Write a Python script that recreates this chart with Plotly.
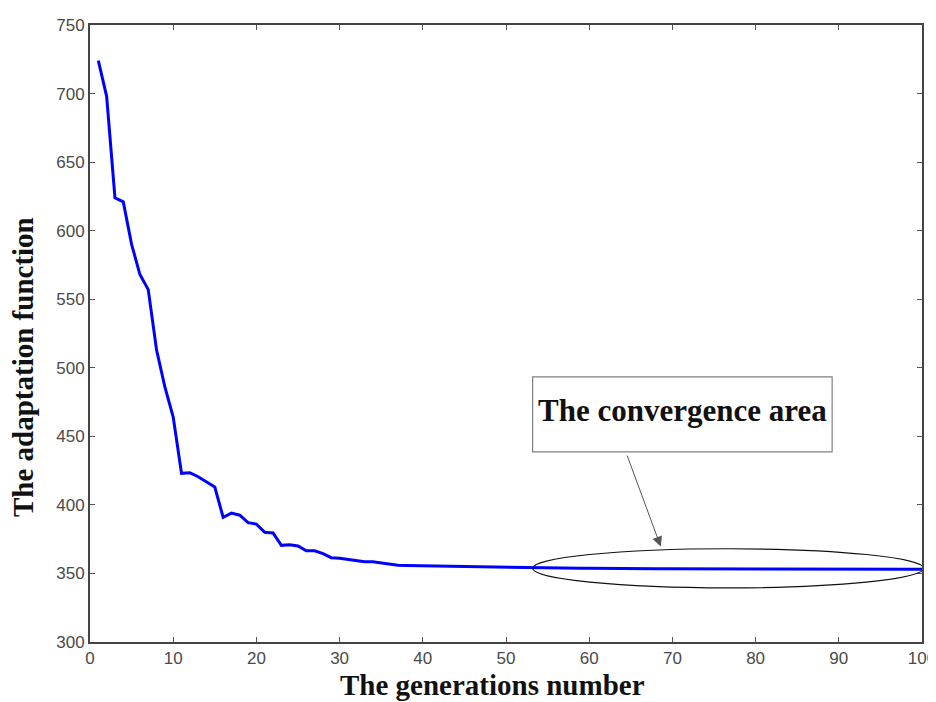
import plotly.graph_objects as go

generations = list(range(1, 101))
fitness = [
    724, 698, 624, 621, 590, 568, 557, 513, 486, 464,
    423, 423.5, 420.5, 417, 413, 391, 394, 392.5, 387, 386,
    380, 379.5, 370.5, 371, 370, 366.5, 366.5, 364.5, 361.5, 361,
    360, 359.5, 358.5, 358.5, 357.5, 356.5, 356, 355.8, 355.7, 355.6,
    355.3, 355, 355, 354.8, 354.7, 354.5, 354.4, 354.3, 354.2, 354.1,
    354, 354, 353.9, 353.9, 353.8, 353.8, 353.8, 353.7, 353.7, 353.7,
    353.6, 353.6, 353.6, 353.5, 353.5, 353.5, 353.5, 353.4, 353.4, 353.4,
    353.4, 353.3, 353.3, 353.3, 353.3, 353.3, 353.2, 353.2, 353.2, 353.2,
    353.2, 353.1, 353.1, 353.1, 353.1, 353.1, 353.1, 353.0, 353.0, 353.0,
    353.0, 353.0, 353.0, 353.0, 353.0, 353.0, 353.0, 353.0, 353.0, 353.0,
]

x_ticks = [0, 10, 20, 30, 40, 50, 60, 70, 80, 90, 100]
y_ticks = [300, 350, 400, 450, 500, 550, 600, 650, 700, 750]

x_title = "The generations number"
y_title = "The adaptation function"
note_text = "The convergence area"

serif = "Liberation Serif, Times New Roman, serif"
sans = "Liberation Sans, Arial, sans-serif"

fig = go.Figure()
fig.add_trace(go.Scatter(
    x=generations, y=fitness, mode="lines",
    line=dict(color="#0000ff", width=3), showlegend=False,
))

axis_common = dict(
    showgrid=False, zeroline=False, showline=True, linecolor="#444444",
    linewidth=2, mirror="ticks", ticks="inside", ticklen=5, tickwidth=1,
    tickcolor="#555555", tickfont=dict(family=sans, size=17, color="#4a4a4a"),
    automargin=False,
)
fig.update_xaxes(range=[0, 100], tickvals=x_ticks, **axis_common)
fig.update_yaxes(range=[300, 750], tickvals=y_ticks, **axis_common)

# convergence ellipse
fig.add_shape(type="circle", xref="x", yref="y", x0=53.2, x1=100.2, y0=339.5, y1=368,
              line=dict(color="#111111", width=1.2))
# annotation box
fig.add_shape(type="rect", xref="x", yref="y", x0=53.2, x1=89.2, y0=438.7, y1=493.3,
              line=dict(color="#808080", width=1.2), fillcolor="white")
fig.add_annotation(x=71.2, y=469, xref="x", yref="y", text="<b>" + note_text + "</b>",
                   showarrow=False, font=dict(family=serif, size=31, color="#111111"))
# arrow
fig.add_annotation(x=68.6, y=369.6, ax=64.5, ay=437, xref="x", yref="y",
                   axref="x", ayref="y", text="", showarrow=True, arrowhead=2,
                   arrowsize=2, arrowwidth=1, arrowcolor="#555555")

# axis titles
fig.add_annotation(x=0.484, y=-0.069, xref="paper", yref="paper", text="<b>" + x_title + "</b>",
                   showarrow=False, yanchor="middle", font=dict(family=serif, size=29, color="#111111"))
fig.add_annotation(x=-0.0803, y=0.446, xref="paper", yref="paper", text="<b>" + y_title + "</b>",
                   showarrow=False, textangle=-90, xanchor="center", yanchor="middle",
                   font=dict(family=serif, size=29, color="#111111"))

fig.update_layout(
    width=936, height=702,
    margin=dict(l=82, r=22, t=17, b=68),
    paper_bgcolor="white", plot_bgcolor="white",
)

fig.write_html("out.html")
